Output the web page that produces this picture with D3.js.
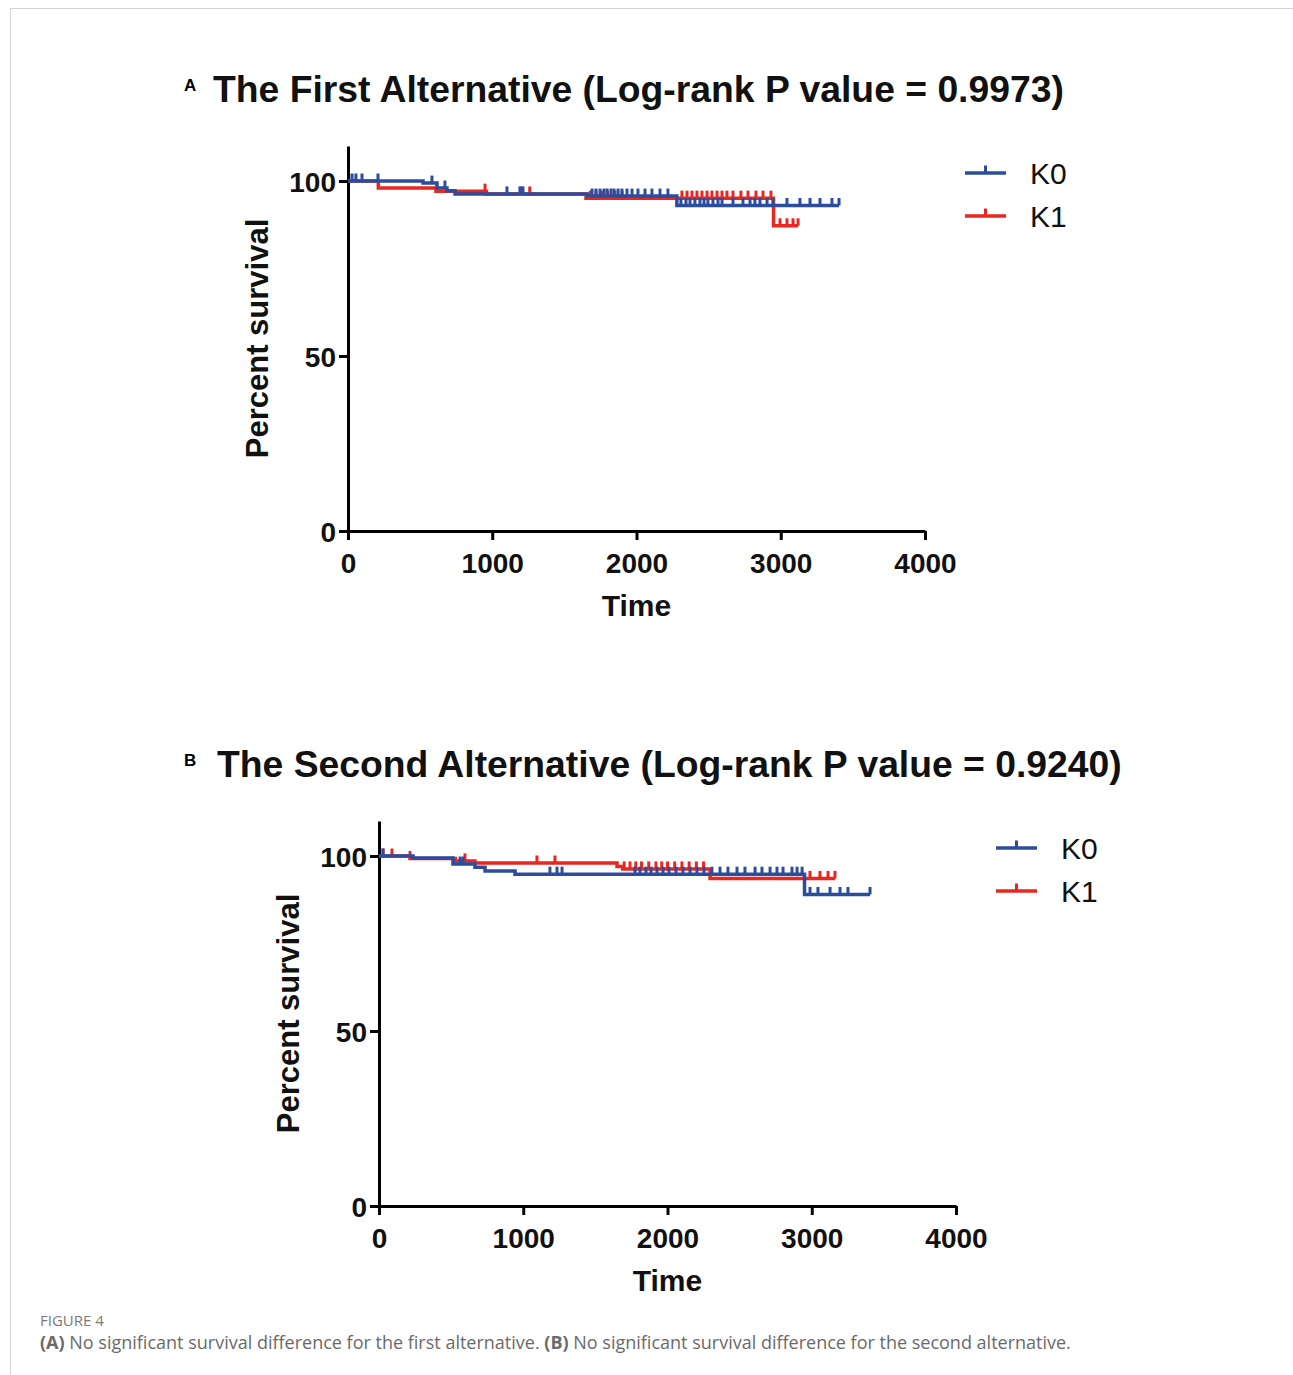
<!DOCTYPE html>
<html>
<head>
<meta charset="utf-8">
<script src="https://cdn.jsdelivr.net/npm/d3@7"></script>
<style>
  html, body { margin: 0; padding: 0; background: #fff; }
  svg { display: block; }
</style>
</head>
<body>
<svg id="fig" width="1293" height="1375"></svg>
<script>
// ---- data ----
const xTicks = [0, 1000, 2000, 3000, 4000];
const yTicks = [0, 50, 100];
const groups = ["K0", "K1"];

// Panel A: Kaplan-Meier steps [time, percent survival] and censoring times
const aK0Steps = [[0, 100], [520, 99.4], [617, 98.0], [686, 97.2], [742, 96.3], [1660, 95.7], [2280, 93.0]];
const aK0Censor = [28, 55, 97, 208, 582, 672, 1102, 1192, 1213, 1692, 1719, 1747, 1775, 1796, 1823, 1844, 1872,
  1899, 1934, 1969, 2010, 2059, 2107, 2163, 2218, 2308, 2343, 2371, 2405, 2440, 2468, 2495, 2530, 2565, 2593,
  2669, 2738, 2787, 2821, 2856, 2905, 2946, 3043, 3133, 3203, 3272, 3355, 3404];
const aK0End = 3404;
const aK1Steps = [[0, 100], [210, 98.0], [610, 97.1], [960, 96.3], [1650, 95.1], [2950, 87.2]];
const aK1Censor = [950, 1200, 1260, 1680, 1720, 1760, 1800, 1850, 1900, 2315, 2350, 2385, 2419, 2454, 2489,
  2523, 2558, 2593, 2627, 2669, 2724, 2773, 2828, 2877, 2932, 2995, 3043, 3085, 3120];
const aK1End = 3120;

// Panel B
const bK0Steps = [[0, 100], [236, 99.4], [513, 97.7], [665, 96.8], [735, 95.7], [943, 94.8], [2950, 89.0]];
const bK0Censor = [28, 562, 582, 1185, 1234, 1269, 1775, 1809, 1851, 1886, 1927, 1969, 2010, 2059, 2107, 2156,
  2204, 2253, 2308, 2364, 2419, 2482, 2537, 2607, 2655, 2711, 2759, 2801, 2863, 2898, 2933, 2988, 3043, 3127,
  3196, 3251, 3404];
const bK0End = 3404;
const bK1Steps = [[0, 100], [215, 99.3], [530, 98.6], [665, 98.0], [1650, 97.0], [1690, 96.3], [2295, 93.6]];
const bK1Censor = [28, 90, 215, 596, 1095, 1220, 1700, 1740, 1780, 1820, 1870, 1920, 1960, 2000, 2050, 2100,
  2150, 2200, 2250, 2988, 3057, 3113, 3161];
const bK1End = 3161;

const titleA = "The First Alternative (Log-rank P value = 0.9973)";
const titleB = "The Second Alternative (Log-rank P value = 0.9240)";

const colors = { K0: "#2c4c9e", K1: "#e9261f" };
const FONT = "'Liberation Sans', Arial, Helvetica, sans-serif";

const svg = d3.select("#fig");

// page frame
svg.append("line").attr("x1", 10).attr("x2", 1293).attr("y1", 8.5).attr("y2", 8.5)
  .attr("stroke", "#d4d4d4").attr("stroke-width", 1);
svg.append("line").attr("x1", 10.5).attr("x2", 10.5).attr("y1", 8).attr("y2", 1375)
  .attr("stroke", "#d4d4d4").attr("stroke-width", 1);

function survivalAt(steps, t) {
  let p = steps[0][1];
  for (const s of steps) { if (s[0] <= t) p = s[1]; }
  return p;
}

function drawPanel(cfg) {
  const g = svg.append("g");
  const x = d3.scaleLinear().domain([0, 4000]).range([cfg.x0, cfg.x1]);
  const y = d3.scaleLinear().domain([0, 110]).range([cfg.y0, cfg.y0 - 385]);

  // panel letter and title
  g.append("text").attr("x", cfg.letterX).attr("y", cfg.letterY)
    .attr("font-family", FONT).attr("font-weight", "bold").attr("font-size", 17)
    .text(cfg.letter);
  g.append("text").attr("x", cfg.titleX).attr("y", cfg.titleY)
    .attr("font-family", FONT).attr("font-weight", "bold").attr("font-size", 37.3)
    .attr("fill", "#111").text(cfg.title);

  // axes
  const yAxis = d3.axisLeft(y).tickValues(yTicks).tickSize(9).tickSizeOuter(0).tickPadding(3);
  const xAxis = d3.axisBottom(x).tickValues(xTicks).tickFormat(d3.format("d"))
    .tickSize(9).tickSizeOuter(0).tickPadding(6);
  const ya = g.append("g").attr("transform", `translate(${cfg.x0},0)`).call(yAxis);
  const xa = g.append("g").attr("transform", `translate(0,${cfg.y0})`).call(xAxis);
  [ya, xa].forEach(a => {
    a.select(".domain").attr("stroke", "#000").attr("stroke-width", 3);
    a.selectAll(".tick line").attr("stroke", "#000").attr("stroke-width", 3);
    a.selectAll(".tick text").attr("font-family", FONT).attr("font-weight", "bold")
      .attr("font-size", 28).attr("fill", "#111");
  });
  ya.selectAll(".tick text").attr("dy", "0.36em");
  xa.selectAll(".tick text").attr("dy", "0.95em");

  // axis titles
  g.append("text")
    .attr("transform", `translate(${cfg.yLabelX},${y(55)}) rotate(-90)`)
    .attr("text-anchor", "middle").attr("font-family", FONT).attr("font-weight", "bold")
    .attr("font-size", 31).attr("fill", "#111").text("Percent survival");
  g.append("text").attr("x", x(2000)).attr("y", cfg.y0 + 85)
    .attr("text-anchor", "middle").attr("font-family", FONT).attr("font-weight", "bold")
    .attr("font-size", 30).attr("fill", "#111").text("Time");

  const line = d3.line().x(d => x(d[0])).y(d => y(d[1])).curve(d3.curveStepAfter);

  // K1 drawn first so K0 sits on top
  cfg.series.slice().reverse().forEach(s => {
    const pts = s.steps.concat([[s.end, s.steps[s.steps.length - 1][1]]]);
    g.append("path").datum(pts).attr("d", line)
      .attr("fill", "none").attr("stroke", colors[s.name]).attr("stroke-width", 3.5)
      .attr("stroke-linejoin", "miter");
    g.append("g").selectAll("line").data(s.censor).join("line")
      .attr("x1", d => x(d)).attr("x2", d => x(d))
      .attr("y1", d => y(survivalAt(s.steps, d)))
      .attr("y2", d => y(survivalAt(s.steps, d)) - 7.5)
      .attr("stroke", colors[s.name]).attr("stroke-width", 3);
  });

  // legend
  groups.forEach((name, i) => {
    const ly = cfg.legY + i * 43;
    const lg = g.append("g");
    lg.append("line").attr("x1", cfg.legX).attr("x2", cfg.legX + 41).attr("y1", ly).attr("y2", ly)
      .attr("stroke", colors[name]).attr("stroke-width", 3.5);
    lg.append("line").attr("x1", cfg.legX + 20.5).attr("x2", cfg.legX + 20.5).attr("y1", ly).attr("y2", ly - 7.5)
      .attr("stroke", colors[name]).attr("stroke-width", 3);
    lg.append("text").attr("x", cfg.legX + 65).attr("y", ly + 11)
      .attr("font-family", FONT).attr("font-size", 30).attr("fill", "#111").text(name);
  });
}

drawPanel({
  letter: "A", letterX: 184, letterY: 91, title: titleA, titleX: 213, titleY: 102,
  x0: 348, x1: 925, y0: 531, yLabelX: 268, legX: 965, legY: 173,
  series: [
    { name: "K0", steps: aK0Steps, censor: aK0Censor, end: aK0End },
    { name: "K1", steps: aK1Steps, censor: aK1Censor, end: aK1End }
  ]
});

drawPanel({
  letter: "B", letterX: 184, letterY: 766, title: titleB, titleX: 217, titleY: 777,
  x0: 379, x1: 956, y0: 1206, yLabelX: 299, legX: 996, legY: 848,
  series: [
    { name: "K0", steps: bK0Steps, censor: bK0Censor, end: bK0End },
    { name: "K1", steps: bK1Steps, censor: bK1Censor, end: bK1End }
  ]
});

// caption
const CAP = "'Open Sans', 'Noto Sans', sans-serif";
svg.append("text").attr("x", 40).attr("y", 1326)
  .attr("font-family", CAP).attr("font-size", 15).attr("fill", "#7a7a7a").text("FIGURE 4");
const cap = svg.append("text").attr("x", 40).attr("y", 1349)
  .attr("font-family", CAP).attr("font-size", 18).attr("fill", "#6a6a6a");
cap.append("tspan").attr("font-weight", "bold").text("(A)");
cap.append("tspan").text(" No significant survival difference for the first alternative. ");
cap.append("tspan").attr("font-weight", "bold").text("(B)");
cap.append("tspan").text(" No significant survival difference for the second alternative.");
</script>
</body>
</html>
